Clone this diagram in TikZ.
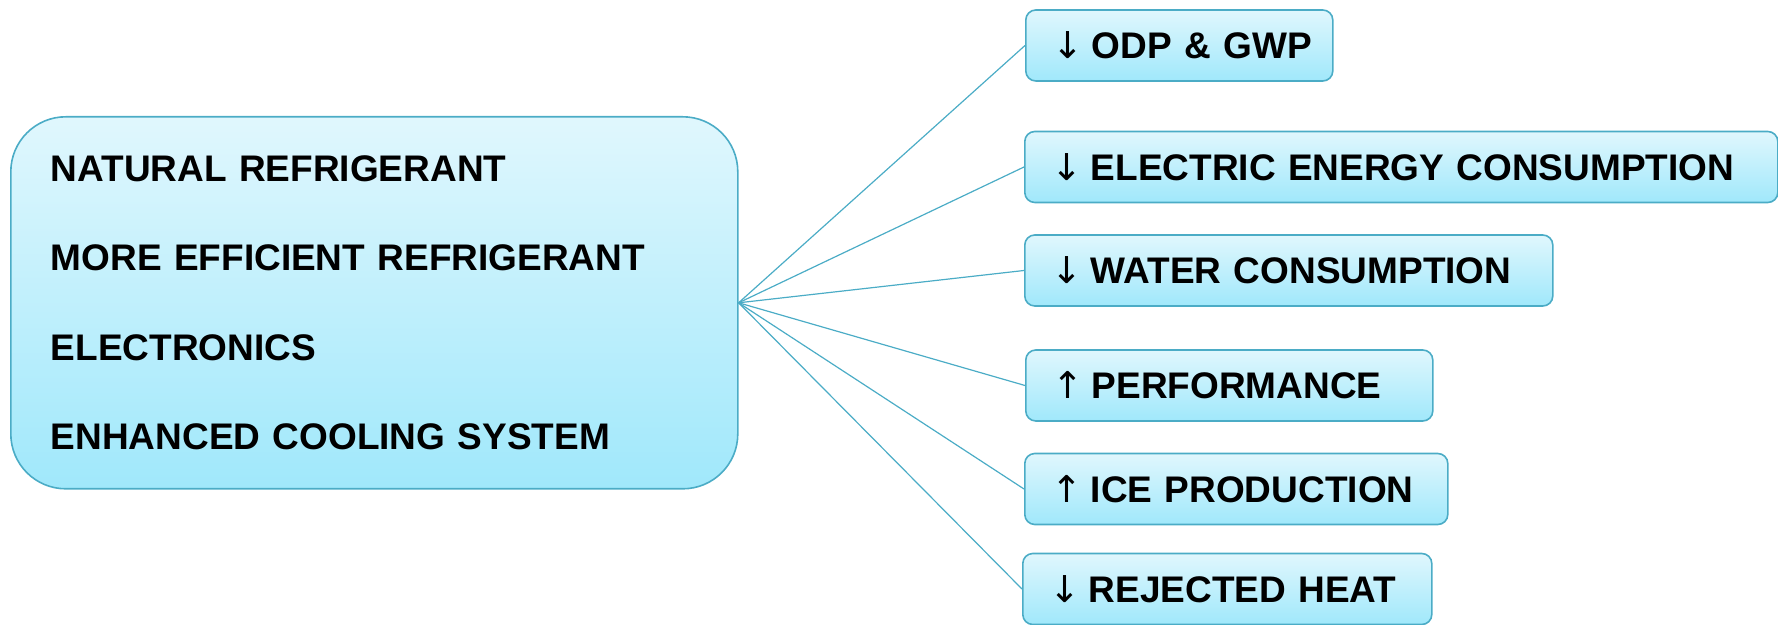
\documentclass[tikz,border=0pt]{standalone}
\usepackage{fontspec}
\setmainfont{Liberation Sans}
\newfontfamily\arrowfont{DejaVu Sans}
\definecolor{bord}{RGB}{75,172,198}
\definecolor{topc}{RGB}{224,247,253}
\definecolor{botc}{RGB}{160,232,251}
\newcommand{\dnarr}{{\arrowfont\mdseries ↓}\hspace{4pt}}
\newcommand{\uparr}{{\arrowfont\mdseries ↑}\hspace{4pt}}
\begin{document}
\begin{tikzpicture}[x=0.5pt,y=-0.5pt,
  mainbox/.style={draw=bord, line width=0.8pt, rounded corners=27.5pt,
    top color=topc, bottom color=botc, anchor=north west,
    minimum height=186pt, text width=323.5pt, inner xsep=20pt, inner ysep=0pt,
    align=left, font=\fontsize{18.5}{44.6}\selectfont\bfseries},
  effbox/.style={draw=bord, line width=0.8pt, rounded corners=5pt,
    top color=topc, bottom color=botc, anchor=west,
    minimum height=35.5pt, inner xsep=13.5pt, inner ysep=0pt,
    align=left, font=\fontsize{18.5}{20}\selectfont\bfseries},
  link/.style={draw=bord, line width=0.6pt}]
\useasboundingbox (0,0) rectangle (1778,625);
\node[mainbox] (main) at (10,116) {NATURAL REFRIGERANT\\MORE EFFICIENT REFRIGERANT\\ELECTRONICS\\ENHANCED COOLING SYSTEM};
\node[effbox, text width=126.5pt] (b1) at (1025,45.5) {\mbox{\dnarr ODP \& GWP}};
\node[effbox, text width=349.5pt] (b2) at (1024,167) {\mbox{\dnarr ELECTRIC ENERGY CONSUMPTION}};
\node[effbox, text width=237pt] (b3) at (1024,270.5) {\mbox{\dnarr WATER CONSUMPTION}};
\node[effbox, text width=176.5pt] (b4) at (1025,385.5) {\mbox{\uparr PERFORMANCE}};
\node[effbox, text width=184.5pt] (b5) at (1024,489) {\mbox{\uparr ICE PRODUCTION}};
\node[effbox, text width=177.5pt] (b6) at (1022,589) {\mbox{\dnarr REJECTED HEAT}};
\foreach \b in {b1,b2,b3,b4,b5,b6}
  \draw[link] (main.east) -- (\b.west);
\end{tikzpicture}
\end{document}
